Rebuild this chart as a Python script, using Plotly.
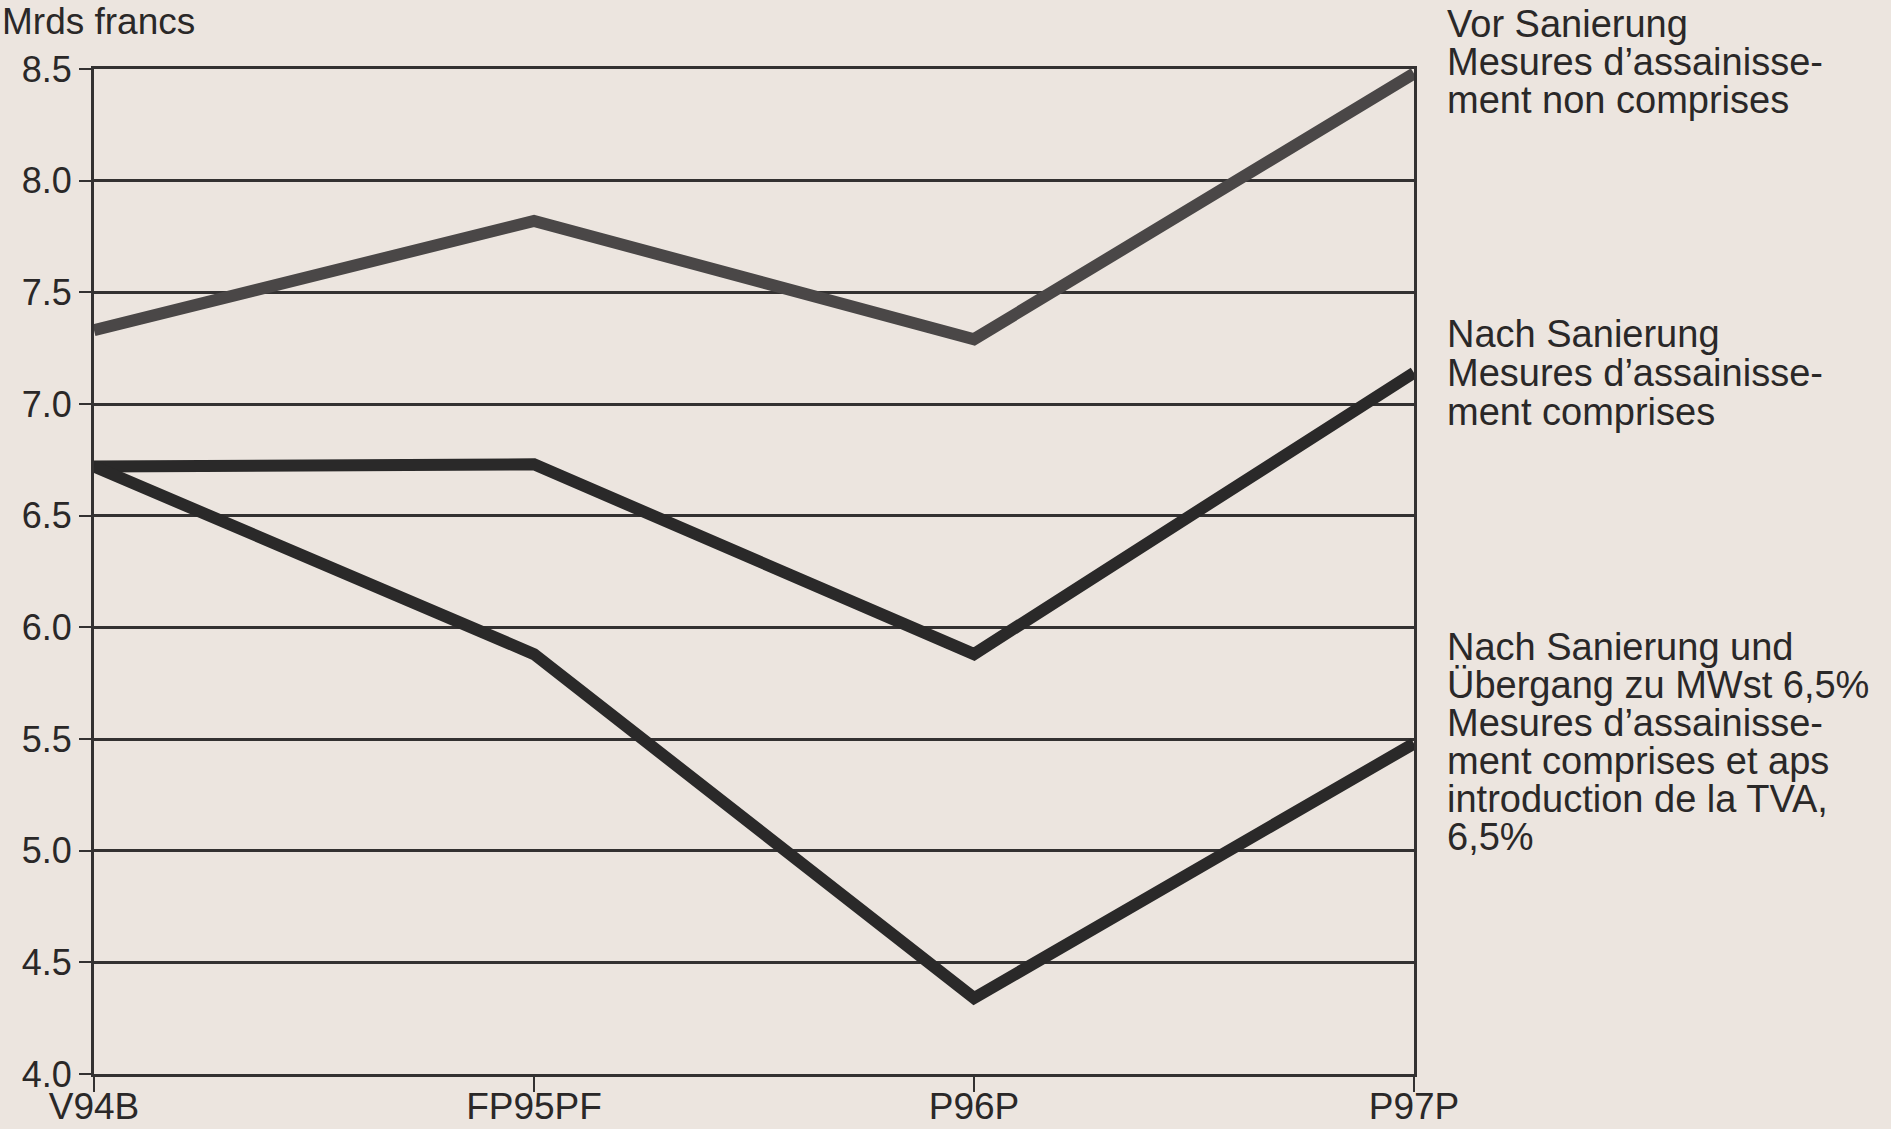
import plotly.graph_objects as go

categories = ["V94B", "FP95PF", "P96P", "P97P"]
vor_sanierung = [7.33, 7.82, 7.29, 8.48]
nach_sanierung = [6.72, 6.73, 5.88, 7.14]
nach_sanierung_mwst = [6.72, 5.88, 4.34, 5.48]
y_ticks = [4.0, 4.5, 5.0, 5.5, 6.0, 6.5, 7.0, 7.5, 8.0, 8.5]

label_vor = ["Vor Sanierung", "Mesures d\u2019assainisse-", "ment non comprises"]
label_nach = ["Nach Sanierung", "Mesures d\u2019assainisse-", "ment comprises"]
label_mwst = ["Nach Sanierung und", "\u00dcbergang zu MWst 6,5%", "Mesures d\u2019assainisse-",
              "ment comprises et aps", "introduction de la TVA,", "6,5%"]
y_title = "Mrds francs"

W, H = 1891, 1129
L, R, T, B = 94, 1414, 69, 1074
BG = "#ece5df"
INK = "#333131"
FONT = "Liberation Sans, Arial, Helvetica, sans-serif"

fig = go.Figure()
fig.add_trace(go.Scatter(x=categories, y=vor_sanierung, mode="lines",
                         line=dict(color="#4a4747", width=12), name=label_vor[0]))
fig.add_trace(go.Scatter(x=categories, y=nach_sanierung, mode="lines",
                         line=dict(color="#2a2929", width=12), name=label_nach[0]))
fig.add_trace(go.Scatter(x=categories, y=nach_sanierung_mwst, mode="lines",
                         line=dict(color="#2a2929", width=12), name=label_mwst[0]))

def px_x(px):
    return (px - L) / (R - L)

def px_y(py):
    return (B - py) / (B - T)

annotations = []
def add_block(lines, centers, x_px=1446):
    for txt, cy in zip(lines, centers):
        annotations.append(dict(text=txt, xref="paper", yref="paper", x=px_x(x_px), y=px_y(cy),
                                xanchor="left", yanchor="middle", showarrow=False, borderpad=0,
                                font=dict(family=FONT, size=38, color="#2a2828")))

add_block(label_vor, [24, 62, 100])
add_block(label_nach, [334, 373, 412])
add_block(label_mwst, [647, 685, 723, 761, 799, 837])

annotations.append(dict(text=y_title, xref="paper", yref="paper", x=px_x(1), y=px_y(22),
                        xanchor="left", yanchor="middle", showarrow=False, borderpad=0,
                        font=dict(family=FONT, size=37, color="#2a2828")))

fig.update_layout(
    width=W, height=H,
    margin=dict(l=L, r=W - R, t=T, b=H - B, pad=0, autoexpand=False),
    paper_bgcolor=BG, plot_bgcolor=BG,
    showlegend=False,
    annotations=annotations,
    font=dict(family=FONT, color="#2a2828"),
)
fig.update_xaxes(type="category", range=[0, 3], showgrid=False, zeroline=False, automargin=False,
                 showline=True, linecolor=INK, linewidth=3, mirror=True,
                 ticks="outside", ticklen=15, tickwidth=2, tickcolor=INK,
                 ticklabelstandoff=-17,
                 tickfont=dict(family=FONT, size=37, color="#2a2828"))
fig.update_yaxes(range=[4, 8.5], tickvals=y_ticks, tickformat=".1f", automargin=False,
                 showgrid=True, gridcolor=INK, gridwidth=2.5, zeroline=False,
                 showline=True, linecolor=INK, linewidth=3, mirror=True,
                 ticks="outside", ticklen=12, tickwidth=2, tickcolor=INK,
                 tickfont=dict(family=FONT, size=36, color="#2a2828"))

fig.write_html("out.html")
